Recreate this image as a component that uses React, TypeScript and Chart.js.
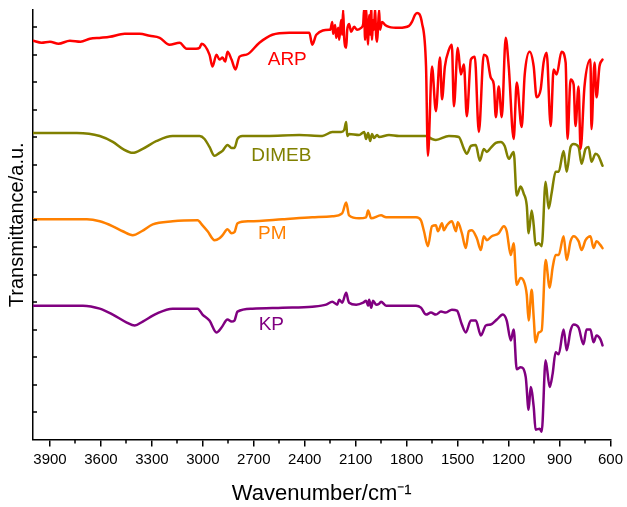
import React, { useEffect, useRef } from "react";
import { Chart, registerables } from "chart.js";

Chart.register(...registerables);

// ---- Data (wavenumber cm^-1, transmittance a.u. with vertical offsets) ----
const xTickValues = [3900, 3600, 3300, 3000, 2700, 2400, 2100, 1800, 1500, 1200, 900, 600];
const xMinorTickValues = [3750, 3450, 3150, 2850, 2550, 2250, 1950, 1650, 1350, 1050, 750];
const yTickValues = [27.7, 55.4, 83.1, 110.8, 138.5, 166.2, 193.9, 221.6, 249.3, 277, 304.7, 332.4, 360.1, 387.8, 415.5];

const seriesNames = ["ARP", "DIMEB", "PM", "KP"];
const labelWavenumbers = [2503, 2538, 2591, 2597];
const labelValues = [383, 286, 207, 116];

const arpSpectrum: [number, number][] = [
  [4000, 402], [3950, 400], [3900, 401], [3850, 399], [3783, 402], [3720, 401], [3665, 404], [3600, 405], [3548, 406], [3460, 409], [3372, 409], [3313, 407],
  [3254, 405], [3196, 398], [3137, 400], [3096, 394], [3040, 394], [3019, 395], [3007, 399], [2961, 388], [2943, 376],
  [2920, 388], [2902, 383], [2884, 385], [2868, 381], [2855, 391], [2831, 383], [2808, 373], [2784, 386], [2743, 388], [2667, 400],
  [2591, 408], [2491, 410], [2373, 410], [2356, 398], [2332, 408], [2256, 413], [2250, 413], [2238, 421],
  [2233, 409], [2221, 418], [2215, 405], [2203, 415], [2197, 403], [2186, 423], [2180, 408], [2174, 433],
  [2168, 405], [2156, 395], [2150, 413], [2139, 419], [2127, 411], [2109, 416], [2092, 413], [2068, 415],
  [2056, 419], [2050, 435], [2045, 403], [2039, 435], [2033, 413], [2027, 398], [2021, 428], [2015, 408],
  [2009, 435], [2004, 403], [1998, 423], [1992, 413], [1986, 435], [1980, 408], [1974, 401], [1968, 418],
  [1962, 433], [1957, 413], [1945, 421], [1927, 418], [1904, 416], [1845, 415], [1786, 417], [1769, 421],
  [1751, 428], [1739, 430], [1710, 420], [1686, 376], [1675, 286], [1651, 376], [1628, 331], [1604, 385],
  [1592, 343], [1575, 376], [1551, 393], [1534, 398], [1522, 336], [1499, 395], [1481, 368], [1463, 378],
  [1446, 326], [1422, 383], [1399, 386], [1375, 310], [1346, 388], [1328, 386], [1305, 365], [1287, 358],
  [1275, 325], [1258, 356], [1240, 325], [1217, 405], [1199, 376], [1170, 303], [1152, 360], [1123, 315],
  [1105, 368], [1076, 391], [1052, 376], [1035, 345], [1011, 353], [994, 380], [976, 390], [952, 316],
  [935, 373], [917, 368], [888, 391], [864, 380], [853, 303], [835, 363], [817, 358], [806, 316],
  [788, 356], [776, 293], [753, 356], [718, 383], [712, 313], [694, 380], [682, 345], [665, 376], [647, 383],
];

const dimebSpectrum: [number, number][] = [
  [4000, 309], [3742, 309], [3607, 306], [3530, 300], [3472, 293], [3413, 289], [3354, 293], [3272, 301],
  [3178, 306], [3019, 306], [2990, 303], [2961, 295], [2931, 286], [2902, 289], [2884, 291], [2855, 297],
  [2831, 294], [2814, 294], [2796, 303], [2767, 306], [2626, 306], [2432, 307], [2297, 306], [2238, 310],
  [2186, 310], [2168, 312], [2156, 320], [2150, 306], [2139, 308], [2080, 307], [2050, 310], [2039, 303],
  [2027, 309], [2015, 301], [2004, 308], [1992, 304], [1974, 307], [1962, 305], [1904, 307], [1845, 306],
  [1686, 306], [1651, 303], [1628, 302], [1551, 306], [1493, 305], [1463, 293], [1446, 288], [1422, 296],
  [1393, 297], [1369, 281], [1346, 293], [1328, 290], [1305, 294], [1275, 299], [1246, 300], [1223, 296],
  [1199, 283], [1170, 290], [1152, 246], [1129, 255], [1111, 248], [1093, 236], [1082, 208], [1064, 231],
  [1052, 216], [1041, 196], [1023, 198], [1005, 195], [982, 260], [964, 233], [947, 248], [923, 270],
  [905, 270], [876, 291], [858, 270], [835, 295], [817, 298], [788, 295], [770, 278], [747, 293],
  [729, 295], [712, 280], [688, 288], [671, 286], [647, 276],
];

const pmSpectrum: [number, number][] = [
  [4000, 222], [3683, 222], [3607, 220], [3530, 215], [3472, 210], [3413, 206], [3360, 210], [3295, 217],
  [3178, 220], [3031, 221], [3002, 216], [2972, 210], [2931, 201], [2902, 203], [2884, 206], [2855, 212],
  [2831, 208], [2814, 209], [2796, 218], [2726, 220], [2532, 222], [2356, 224], [2238, 225], [2180, 228],
  [2156, 239], [2139, 226], [2080, 223], [2039, 224], [2027, 231], [2009, 223], [1951, 226], [1921, 224],
  [1745, 224], [1716, 221], [1698, 210], [1675, 195], [1651, 215], [1628, 216], [1616, 210], [1592, 218],
  [1581, 211], [1563, 216], [1534, 220], [1510, 210], [1499, 219], [1475, 208], [1452, 193], [1434, 210],
  [1416, 211], [1387, 203], [1363, 191], [1346, 205], [1328, 201], [1299, 205], [1258, 208], [1228, 215],
  [1211, 210], [1187, 186], [1170, 198], [1152, 156], [1129, 163], [1111, 160], [1093, 146], [1082, 120],
  [1064, 151], [1052, 123], [1041, 98], [1023, 108], [1005, 110], [982, 181], [958, 153], [941, 173],
  [923, 186], [905, 186], [876, 205], [858, 181], [835, 200], [817, 205], [788, 200], [770, 191],
  [747, 201], [718, 205], [700, 193], [682, 200], [659, 196], [647, 193],
];

const kpSpectrum: [number, number][] = [
  [4000, 135], [3706, 135], [3607, 132], [3530, 126], [3448, 118], [3401, 115], [3354, 119], [3272, 127],
  [3178, 132], [3031, 132], [3002, 126], [2961, 120], [2920, 108], [2890, 113], [2855, 121], [2831, 119],
  [2814, 120], [2796, 129], [2708, 132], [2532, 133], [2356, 134], [2274, 136], [2238, 139], [2209, 136],
  [2197, 141], [2180, 138], [2156, 148], [2144, 140], [2139, 138], [2097, 136], [2056, 138], [2039, 140],
  [2027, 135], [2021, 141], [2009, 133], [1998, 140], [1980, 136], [1962, 137], [1951, 139], [1921, 135],
  [1745, 135], [1716, 133], [1686, 126], [1657, 128], [1628, 126], [1598, 129], [1569, 128], [1534, 131],
  [1504, 130], [1475, 116], [1452, 108], [1422, 120], [1393, 120], [1363, 105], [1334, 115], [1305, 116],
  [1269, 121], [1234, 126], [1211, 120], [1187, 100], [1170, 111], [1152, 71], [1129, 73], [1099, 63],
  [1082, 30], [1070, 53], [1052, 33], [1041, 10], [1017, 11], [1005, 8], [982, 80], [958, 53],
  [941, 66], [923, 88], [905, 86], [876, 111], [858, 90], [835, 110], [817, 116], [788, 113],
  [759, 96], [741, 111], [718, 111], [700, 98], [682, 105], [659, 101], [647, 95],
];

const allSpectra = [arpSpectrum, dimebSpectrum, pmSpectrum, kpSpectrum];

// ---- Styles ----
const seriesColors = ["#FF0000", "#808000", "#FF8000", "#800080"];
const FONT = '"Liberation Sans", Arial, Helvetica, sans-serif';

const decorPlugin = {
  id: "decor",
  afterDraw(chart: any) {
    const { ctx, chartArea, scales } = chart;
    const x = scales.x;
    const y = scales.y;
    ctx.save();
    ctx.strokeStyle = "#000";
    ctx.lineWidth = 1.5;
    ctx.beginPath();
    xMinorTickValues.forEach((v) => {
      const px = Math.round(x.getPixelForValue(v));
      ctx.moveTo(px, chartArea.bottom);
      ctx.lineTo(px, chartArea.bottom + 4);
    });
    yTickValues.forEach((v) => {
      const py = Math.round(y.getPixelForValue(v));
      ctx.moveTo(chartArea.left, py);
      ctx.lineTo(chartArea.left + 4, py);
    });
    ctx.stroke();
    ctx.font = `19px ${FONT}`;
    ctx.textAlign = "center";
    ctx.textBaseline = "middle";
    seriesNames.forEach((n, i) => {
      ctx.fillStyle = seriesColors[i];
      ctx.fillText(n, x.getPixelForValue(labelWavenumbers[i]), y.getPixelForValue(labelValues[i]));
    });
    ctx.restore();
  },
};

export default function App() {
  const ref = useRef<HTMLCanvasElement | null>(null);
  useEffect(() => {
    if (!ref.current) return;
    const chart = new Chart(ref.current, {
      type: "line",
      data: {
        datasets: allSpectra.map((s, i) => ({
          label: seriesNames[i],
          data: s.map(([w, v]) => ({ x: w, y: v })),
          borderColor: seriesColors[i],
          backgroundColor: seriesColors[i],
          borderWidth: 2.5,
          pointRadius: 0,
          cubicInterpolationMode: "monotone" as const,
          fill: false,
          borderJoinStyle: "round" as const,
          borderCapStyle: "round" as const,
        })),
      },
      options: {
        animation: false,
        responsive: false,
        maintainAspectRatio: false,
        devicePixelRatio: 1,
        layout: { padding: { top: 10, left: 1, right: 15, bottom: 0 } },
        plugins: { legend: { display: false }, tooltip: { enabled: false } },
        scales: {
          x: {
            type: "linear",
            reverse: true,
            min: 600,
            max: 4000,
            afterBuildTicks: (s: any) => {
              s.ticks = xTickValues.map((v) => ({ value: v }));
            },
            ticks: {
              color: "#000",
              font: { size: 15, family: FONT },
              padding: 4,
              maxRotation: 0,
              autoSkip: false,
              callback: (v: any) => String(v),
            },
            grid: { display: true, drawOnChartArea: false, drawTicks: true, tickLength: 7, color: "#000", lineWidth: 1.5 },
            border: { display: true, color: "#000", width: 1.5 },
            title: {
              display: true,
              text: "Wavenumber/cm\u207B\u00B9",
              color: "#000",
              font: { size: 22, family: FONT },
              padding: { top: 8, bottom: 0 },
            },
          },
          y: {
            type: "linear",
            min: 0,
            max: 433,
            ticks: { display: false },
            grid: { display: false, drawTicks: false },
            border: { display: true, color: "#000", width: 1.5 },
            title: {
              display: true,
              text: "Transmittance/a.u.",
              color: "#000",
              font: { size: 20, family: FONT },
              padding: { top: 4, bottom: 4 },
            },
          },
        },
      },
      plugins: [decorPlugin],
    });
    return () => chart.destroy();
  }, []);
  return (
    <div style={{ position: "fixed", left: 0, top: 0, width: 627, height: 507, background: "#fff" }}>
      <canvas ref={ref} width={627} height={507} />
    </div>
  );
}
